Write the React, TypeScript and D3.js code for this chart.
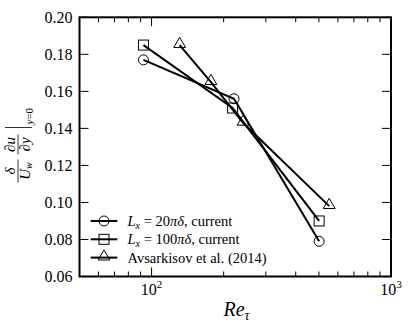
import React from "react";
import * as d3 from "d3";

// Re_tau and wall-gradient values
const reTau20 = [92.5, 221, 501];
const grad20 = [0.177, 0.156, 0.079];
const reTau100 = [92.5, 218, 501];
const grad100 = [0.185, 0.151, 0.09];
const reTauAvs = [131, 177, 241, 552];
const gradAvs = [0.185, 0.165, 0.143, 0.098];

const yTicks = [0.06, 0.08, 0.1, 0.12, 0.14, 0.16, 0.18, 0.2];
const xMajor = [100, 1000];
const xMinor = [60, 70, 80, 90, 200, 300, 400, 500, 600, 700, 800, 900];

const W = 415;
const H = 334;
const font = "Liberation Serif";

function Marker({ kind, x, y }: { kind: string; x: number; y: number }) {
  const common = { fill: "none", stroke: "#000", strokeWidth: 1 };
  if (kind === "circle") return <circle cx={x} cy={y} r={5} {...common} />;
  if (kind === "square") return <rect x={x - 5} y={y - 5} width={10} height={10} {...common} />;
  const tri = d3.symbol().type(d3.symbolTriangle).size(60)();
  return <path d={tri || ""} transform={`translate(${x},${y - 1})`} {...common} />;
}

export default function App() {
  const x = d3.scaleLog().domain([50, 1000]).range([79.5, 391]);
  const y = d3.scaleLinear().domain([0.06, 0.2]).range([276.5, 17.3]);
  const [x0, x1] = x.range();
  const [y0, y1] = y.range();

  const line = d3
    .line<[number, number]>()
    .x((d) => x(d[0]))
    .y((d) => y(d[1]));

  const series = [
    { kind: "circle", re: reTau20, g: grad20 },
    { kind: "square", re: reTau100, g: grad100 },
    { kind: "triangle", re: reTauAvs, g: gradAvs },
  ];

  const legendRows = [
    { kind: "circle", label: (<><tspan fontStyle="italic">L</tspan><tspan fontStyle="italic" fontSize={10} dy={3}>x</tspan><tspan dy={-3}> = 20</tspan><tspan fontStyle="italic">πδ</tspan><tspan>, current</tspan></>) },
    { kind: "square", label: (<><tspan fontStyle="italic">L</tspan><tspan fontStyle="italic" fontSize={10} dy={3}>x</tspan><tspan dy={-3}> = 100</tspan><tspan fontStyle="italic">πδ</tspan><tspan>, current</tspan></>) },
    { kind: "triangle", label: <tspan>Avsarkisov et al. (2014)</tspan> },
  ];

  return (
    <svg width={W} height={H} style={{ position: "absolute", left: 0, top: 0, background: "#fff" }}>
      {/* ticks */}
      <g stroke="#000" strokeWidth={1}>
        {yTicks.map((t) => (
          <g key={t}>
            <line x1={x0} x2={x0 + 9} y1={y(t)} y2={y(t)} />
            <line x1={x1} x2={x1 - 9} y1={y(t)} y2={y(t)} />
          </g>
        ))}
        {xMajor.map((t) => (
          <g key={t}>
            <line x1={x(t)} x2={x(t)} y1={y0} y2={y0 - 9} />
            <line x1={x(t)} x2={x(t)} y1={y1} y2={y1 + 9} />
          </g>
        ))}
        {xMinor.map((t) => (
          <g key={t}>
            <line x1={x(t)} x2={x(t)} y1={y0} y2={y0 - 5} />
            <line x1={x(t)} x2={x(t)} y1={y1} y2={y1 + 5} />
          </g>
        ))}
      </g>

      {/* y tick labels */}
      {yTicks.map((t) => (
        <text key={t} x={x0 - 7} y={y(t) + 5.5} textAnchor="end" fontSize={16} fontFamily={font}>
          {d3.format(".2f")(t)}
        </text>
      ))}
      {/* x tick labels */}
      {xMajor.map((t) => (
        <text key={t} x={x(t)} y={295} textAnchor="middle" fontSize={16} fontFamily={font}>
          10<tspan fontSize={11} dy={-7}>{Math.round(Math.log10(t))}</tspan>
        </text>
      ))}

      {/* data */}
      {series.map((s) => {
        const pts = s.re.map((r, i) => [r, s.g[i]] as [number, number]);
        return (
          <g key={s.kind}>
            <path d={line(pts) || ""} fill="none" stroke="#000" strokeWidth={2} />
            {pts.map((p, i) => (
              <Marker key={i} kind={s.kind} x={x(p[0])} y={y(p[1])} />
            ))}
          </g>
        );
      })}

      {/* legend */}
      {legendRows.map((r, i) => {
        const ly = 221 + i * 18.3;
        return (
          <g key={r.kind}>
            <line x1={90.7} x2={117.3} y1={ly} y2={ly} stroke="#000" strokeWidth={2} />
            <Marker kind={r.kind} x={104} y={ly} />
            <text x={127.5} y={ly + 5} fontSize={14.5} fontFamily={font}>
              {r.label}
            </text>
          </g>
        );
      })}

      {/* frame */}
      <rect x={x0} y={y1} width={x1 - x0} height={y0 - y1} fill="none" stroke="#000" strokeWidth={2} />

      {/* x label */}
      <text x={236.5} y={316} textAnchor="middle" fontSize={20} fontStyle="italic" fontFamily={font}>
        Re<tspan fontSize={14} dy={4}>τ</tspan>
      </text>

      {/* y label */}
      <g transform="translate(18,142.5) rotate(-90)" fontSize={15} fontFamily={font}>
        <line x1={-40} x2={-17} y1={0} y2={0} stroke="#000" strokeWidth={0.8} />
        <text x={-28.5} y={-3} textAnchor="middle" fontStyle="italic" fontFamily={font}>δ</text>
        <text x={-28.5} y={12} textAnchor="middle" fontStyle="italic" fontFamily={font}>
          U<tspan fontSize={10} dy={2}>w</tspan>
        </text>
        <line x1={-12} x2={8} y1={0} y2={0} stroke="#000" strokeWidth={0.8} />
        <text x={-2} y={-3} textAnchor="middle" fontStyle="italic" fontFamily={font}>∂u</text>
        <text x={-2} y={12} textAnchor="middle" fontStyle="italic" fontFamily={font}>∂y</text>
        <line x1={15} x2={15} y1={-13} y2={14} stroke="#000" strokeWidth={0.8} />
        <text x={18} y={15} fontSize={11} fontFamily={font}>
          <tspan fontStyle="italic">y</tspan>=0
        </text>
      </g>
    </svg>
  );
}
